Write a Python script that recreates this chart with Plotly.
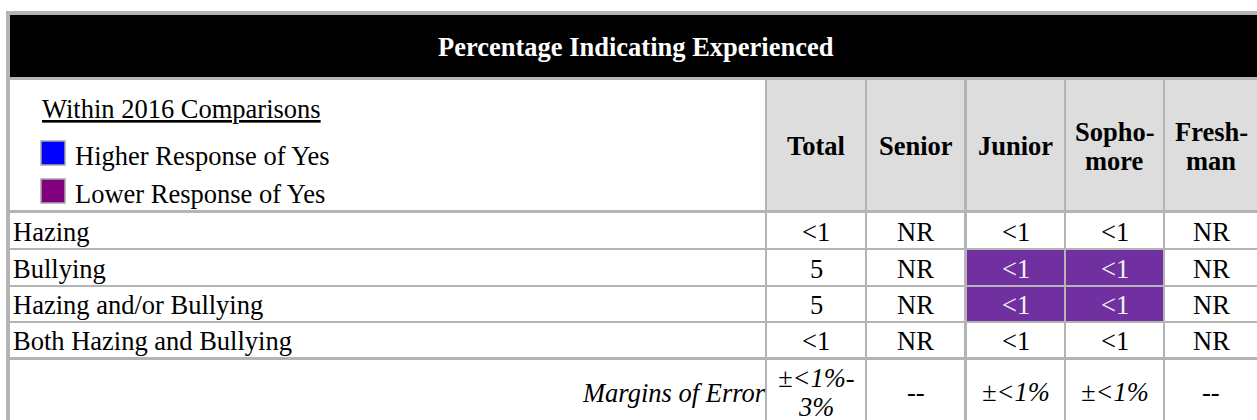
import plotly.graph_objects as go

# ---------------- data ----------------
title = "Percentage Indicating Experienced"
legend_title = "Within 2016 Comparisons"
legend_items = ["Higher Response of Yes", "Lower Response of Yes"]
legend_colors = ["#0000FF", "#800080"]

columns = ["Total", "Senior", "Junior", "Sopho-\nmore", "Fresh-\nman"]
row_labels = ["Hazing", "Bullying", "Hazing and/or Bullying", "Both Hazing and Bullying"]

total = ["<1", "5", "5", "<1"]
senior = ["NR", "NR", "NR", "NR"]
junior = ["<1", "<1", "<1", "<1"]
sophomore = ["<1", "<1", "<1", "<1"]
freshman = ["NR", "NR", "NR", "NR"]

# significance flags ("" = none, "higher", "lower")
total_sig = ["", "", "", ""]
senior_sig = ["", "", "", ""]
junior_sig = ["", "lower", "lower", ""]
sophomore_sig = ["", "lower", "lower", ""]
freshman_sig = ["", "", "", ""]

moe_label = "Margins of Error"
moe = ["±<1%-\n3%", "--", "±<1%", "±<1%", "--"]

values = [total, senior, junior, sophomore, freshman]
sigs = [total_sig, senior_sig, junior_sig, sophomore_sig, freshman_sig]

# ---------------- style / layout ----------------
W, H = 1257, 420
FONT = "Liberation Serif"
FS = 26.5
BORDER = "#B4B4B4"
HEAD_FILL = "#DDDDDD"
SIG_FILL = {"higher": "#0000FF", "lower": "#7030A0"}
SIG_TEXT = "#F2F2F2"
LINE_GAP = 29

label_x = (10, 765)
col_x = [(767, 865), (867, 964), (967, 1064), (1066, 1163), (1165, 1262)]
title_y = (15, 77)
header_y = (80, 210)
row_y = [(213, 248), (250, 285), (287, 321), (323, 357)]
moe_y = (360, 440)
moe_center = 392


def esc(s):
    return s.replace("&", "&amp;").replace("<", "&lt;").replace(">", "&gt;")


shapes = []
annotations = []


def rect(x0, x1, y0, y1, fill, line_color=None, line_width=0):
    shapes.append(dict(type="rect", xref="x", yref="y", x0=x0, x1=x1, y0=y0, y1=y1,
                       fillcolor=fill, layer="below",
                       line=dict(width=line_width, color=line_color or fill)))


def text(x, y, s, anchor="center", bold=False, italic=False, color="black", size=FS):
    t = esc(s)
    if bold:
        t = "<b>" + t + "</b>"
    if italic:
        t = "<i>" + t + "</i>"
    annotations.append(dict(x=x, y=y, xref="x", yref="y", text=t, showarrow=False,
                            xanchor=anchor, yanchor="middle",
                            font=dict(family=FONT, size=size, color=color)))


def multiline(x, yc, s, **kw):
    lines = s.split("\n")
    n = len(lines)
    for i, ln in enumerate(lines):
        text(x, yc + (i - (n - 1) / 2) * LINE_GAP, ln, **kw)


def center_x(x0, x1):
    return (x0 + min(x1, W)) / 2


# background (acts as border grid)
rect(6, 1262, 11, 440, BORDER)

# title
rect(10, 1262, title_y[0], title_y[1], "black")
text((10 + 1262) / 2, sum(title_y) / 2 + 1, title, bold=True, color="white")

# legend cell
rect(label_x[0], label_x[1], header_y[0], header_y[1], "white")
annotations.append(dict(x=40, y=109, xref="x", yref="y", text="<u>" + esc(legend_title) + "</u>",
                        showarrow=False, xanchor="left", yanchor="middle",
                        font=dict(family=FONT, size=FS, color="black")))
leg_y = [153, 191]
for item, col, yc in zip(legend_items, legend_colors, leg_y):
    shapes.append(dict(type="rect", xref="x", yref="y", x0=41, x1=65, y0=yc - 12, y1=yc + 12,
                       fillcolor=col, line=dict(width=1.5, color="#A8A8A8")))
    text(73, yc + 3, item, anchor="left")

# column headers
for (x0, x1), name in zip(col_x, columns):
    rect(x0, x1, header_y[0], header_y[1], HEAD_FILL)
    multiline(center_x(x0, x1), 146, name, bold=True)

# data rows
for r, (y0, y1) in enumerate(row_y):
    rect(label_x[0], label_x[1], y0, y1, "white")
    text(11, (y0 + y1) / 2 + 1, row_labels[r], anchor="left")
    for c, (x0, x1) in enumerate(col_x):
        flag = sigs[c][r]
        fill = SIG_FILL.get(flag, "white")
        rect(x0, x1, y0, y1, fill)
        text(center_x(x0, x1), (y0 + y1) / 2 + 1, values[c][r],
             color=SIG_TEXT if flag else "black")

# margins of error row
rect(label_x[0], label_x[1], moe_y[0], moe_y[1], "white")
text(768, moe_center + 1, moe_label, anchor="right", italic=True)
for c, (x0, x1) in enumerate(col_x):
    rect(x0, x1, moe_y[0], moe_y[1], "white")
    multiline(center_x(x0, x1), moe_center, moe[c], italic=True)

fig = go.Figure()
fig.add_trace(go.Scatter(x=[0, W], y=[0, H], mode="markers", marker=dict(opacity=0),
                         hoverinfo="skip", showlegend=False))
fig.update_layout(
    width=W, height=H, margin=dict(l=0, r=0, t=0, b=0),
    paper_bgcolor="white", plot_bgcolor="white",
    xaxis=dict(range=[0, W], visible=False, fixedrange=True),
    yaxis=dict(range=[H, 0], visible=False, fixedrange=True),
    shapes=shapes, annotations=annotations, showlegend=False,
)
fig.write_html("out.html",
               config={"displayModeBar": False, "staticPlot": True},
               post_script="document.body.style.margin='0';document.body.style.overflow='hidden';")
